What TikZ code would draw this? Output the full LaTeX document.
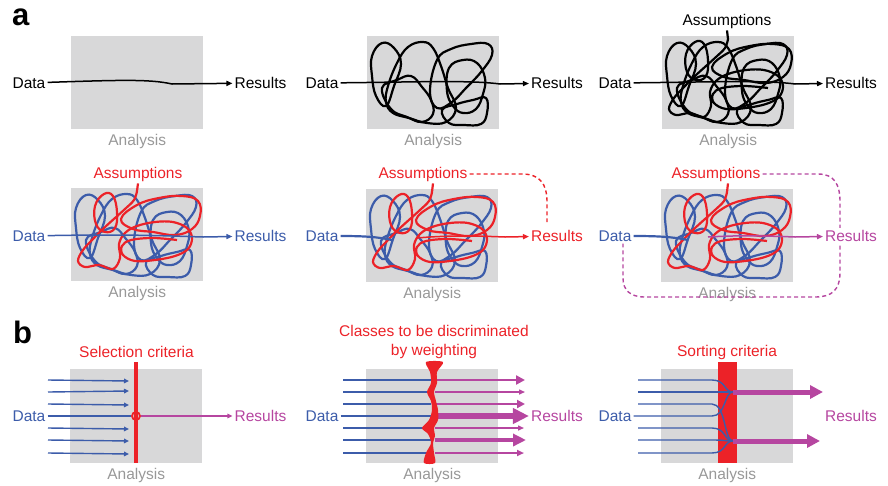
\documentclass[tikz,border=0pt]{standalone}
\usepackage{fontspec}
\setmainfont{Liberation Sans}
\usetikzlibrary{arrows.meta, positioning}

\definecolor{boxgray}{RGB}{216,216,217}
\definecolor{angray}{RGB}{152,152,152}
\definecolor{datablue}{RGB}{60,92,170}
\definecolor{asred}{RGB}{236,34,40}
\definecolor{resmag}{RGB}{182,70,160}

\tikzset{
  lbl/.style={font=\fontsize{15.5}{19}\selectfont, inner sep=2pt},
  anl/.style={font=\fontsize{15.5}{19}\selectfont, text=angray, inner sep=0pt},
  panel/.style={font=\fontsize{31}{36}\selectfont\bfseries, inner sep=0pt, anchor=base west},
  anbox/.style={fill=boxgray, minimum width=132pt, minimum height=93pt, inner sep=0pt, anchor=north west},
  knot/.style={line width=2.2pt, line join=round},
  arr/.style={line width=1.5pt, -{Triangle[length=6pt,width=5pt]}},
  bline/.style={datablue, line width=1.4pt},
  barr/.style={bline, -{Triangle[length=5pt,width=4.5pt]}},
  dashln/.style={line width=1.4pt, dash pattern=on 4pt off 3pt},
}

% loops of the analysis knot (box coordinates, y down)
\newcommand{\blueknot}[1]{
  \draw[knot,#1] plot[smooth cycle,tension=0.7] coordinates {(5,20) (15,7) (27,12) (34,28) (27,50) (19,70) (9,60) (5,40)};
  \draw[knot,#1] plot[smooth cycle,tension=0.7] coordinates {(30,27) (41,11) (56,6) (66,12) (74,30) (81,52) (89,72) (79,86) (60,87) (42,82) (26,77) (19,66) (21,50)};
  \draw[knot,#1] plot[smooth cycle,tension=0.7] coordinates {(70,24) (84,13) (104,8) (121,8) (125,19) (114,36) (99,52) (85,66) (70,72) (63,55)};
  \draw[knot,#1] plot[smooth cycle,tension=0.7] coordinates {(82,32) (96,24) (110,27) (118,42) (116,58) (109,73) (96,77) (86,70) (80,55)};
  \draw[knot,#1] plot[smooth cycle,tension=0.7] coordinates {(75,74) (82,87) (97,89) (114,88) (120,77) (119,62) (106,64) (90,68)};
  \draw[knot,#1] plot[smooth cycle,tension=0.7] coordinates {(15,52) (30,44) (44,40) (55,51) (64,64) (66,78) (55,86) (40,81) (24,73)};
}
\newcommand{\redknot}[2]{
  \draw[knot,#1] (#2) -- plot[smooth,tension=0.6] coordinates {(66,3) (63,12) (54,21) (44,30) (33,40) (22,51) (12,62) (7,73) (14,79) (28,77) (42,81) (49,70) (48,56) (54,45) (66,38) (84,34) (102,34) (116,40) (121,50) (117,61) (104,68) (84,72) (64,73) (52,67) (51,58) (60,52) (82,50) (106,52)};
  \draw[knot,#1] plot[smooth cycle,tension=0.7] coordinates {(24,18) (33,6) (42,8) (46,24) (44,40) (34,44) (25,36)};
  \draw[knot,#1] plot[smooth cycle,tension=0.7] coordinates {(50,31) (66,17) (88,10) (111,8) (127,13) (129,28) (121,41) (104,47) (82,44) (62,41)};
}

\begin{document}
\begin{tikzpicture}[x=1pt, y=-1pt]
\useasboundingbox (0,0) rectangle (888,485);

% ---- a: top row
\node[panel] (pa) at (12,25) {a};

\node[anbox] (box1) at (71,36) {};
\node[anl, below=4.5pt of box1] (an1) {Analysis};
\node[lbl] (d1) at (29,83) {Data};
\node[lbl] (r1) at (260.5,83) {Results};
\draw[arr] (d1) .. controls (120,80) and (150,79) .. (172,84) -- (r1);

\node[anbox] (box2) at (367,36) {};
\node[anl, below=4.5pt of box2] (an2) {Analysis};
\node[lbl] (d2) at (322,83) {Data};
\node[lbl] (r2) at (557,83) {Results};
\begin{scope}[shift={(367,36)}]
  \blueknot{black}
\end{scope}
\draw[arr] (d2) .. controls (420,82) and (470,80) .. (500,84) -- (r2);

\node[anbox] (box3) at (662,36) {};
\node[anl, below=4.5pt of box3] (an3) {Analysis};
\node[lbl] (d3) at (615,83) {Data};
\node[lbl] (r3) at (851,83) {Results};
\node[lbl, anchor=base] (as3) at (727,25) {Assumptions};
\begin{scope}[shift={(662,36)}]
  \blueknot{black}
  \redknot{black}{as3.south}
\end{scope}
\draw[arr] (d3) .. controls (715,82) and (765,80) .. (795,84) -- (r3);

% ---- a: bottom row
\node[anbox] (box4) at (71,188) {};
\node[anl, below=4.5pt of box4] (an4) {Analysis};
\node[lbl, text=datablue] (d4) at (29,236) {Data};
\node[lbl, text=datablue] (r4) at (260.5,236) {Results};
\node[lbl, text=asred, anchor=base] (as4) at (138,178) {Assumptions};
\begin{scope}[shift={(71,188)}]
  \blueknot{datablue}
  \redknot{asred}{as4.south}
\end{scope}
\draw[arr, datablue] (d4) .. controls (130,234) and (170,236) .. (203,237) -- (r4);

\node[anbox] (box5) at (366,189) {};
\node[anl, below=4.5pt of box5] (an5) {Analysis};
\node[lbl, text=datablue] (d5) at (322,236) {Data};
\node[lbl, text=asred] (r5) at (557,236) {Results};
\node[lbl, text=asred, anchor=base] (as5) at (423,178) {Assumptions};
\begin{scope}[shift={(366,189)}]
  \blueknot{datablue}
  \redknot{asred}{[xshift=10pt]as5.south}
\end{scope}
\coordinate (o5) at (417,238);
\draw[knot, datablue] (d5) .. controls (365,236) and (378,237) .. (392,240);
\draw[arr, asred] (o5) .. controls (450,235) and (480,236) .. (505,237) -- (r5);
\draw[dashln, asred] (as5.east) -- (522,174) .. controls (540,174) and (547,184) .. (547,202) -- ([xshift=-10pt, yshift=6pt]r5.north);

\node[anbox] (box6) at (661,189) {};
\node[anl, below=4.5pt of box6] (an6) {Analysis};
\node[lbl, text=datablue] (d6) at (615,236) {Data};
\node[lbl, text=asred, anchor=base] (as6) at (716,178) {Assumptions};
\begin{scope}[shift={(661,189)}]
  \blueknot{datablue}
  \redknot{asred}{[xshift=12pt]as6.south}
\end{scope}
\draw[dashln, resmag] (as6.east) -- (818,174) .. controls (834,174) and (840,184) .. (840,202) -- (840,272)
  .. controls (840,290) and (832,297) .. (815,297) -- (645,297) .. controls (630,297) and (623,290) .. (623,278)
  -- ([xshift=8pt]d6.south);
\node[lbl, text=resmag, fill=white] (r6) at (851,236) {Results};
\coordinate (o6) at (708,237);
\draw[knot, datablue] (d6) .. controls (660,236) and (673,237) .. (688,240);
\draw[arr, resmag] (o6) .. controls (740,235) and (770,236) .. (795,237) -- (r6);

% ---- b
\node[panel] (pb) at (13,343) {b};

% selection
\node[anbox, minimum height=94pt] (box7) at (70,369) {};
\node[anl, below=4.5pt of box7] (an7) {Analysis};
\node[lbl, text=datablue] (d7) at (29,416) {Data};
\node[lbl, text=resmag] (r7) at (260.5,416) {Results};
\node[lbl, text=asred, anchor=base] (sc) at (136.5,357) {Selection criteria};
\foreach \y/\e in {380/381, 392/391, 404/405, 428/429, 440/441, 453/454}
  \draw[barr] (48,\y) -- (129,\e);
\draw[asred, line width=3.5pt] (136,362) -- (136,463);
\node[circle, draw=asred, line width=1.8pt, minimum size=8pt, inner sep=0pt] (sel) at (136,416) {};
\draw[bline] (d7) -- (sel);
\draw[barr, resmag] (sel) -- (r7);

% weighting
\node[anbox, minimum height=94pt] (box8) at (366,369) {};
\node[anl, below=4.5pt of box8] (an8) {Analysis};
\node[lbl, text=datablue] (d8) at (322,416) {Data};
\node[lbl, text=resmag] (r8) at (557,416) {Results};
\node[lbl, text=asred, align=center, anchor=south] (cw) at (434,361) {Classes to be discriminated\\by weighting};
\foreach \y in {380,392,404,428,440,453}
  \draw[bline] (343,\y) -- (431,\y);
\draw[bline] (d8) -- (431,416);
\foreach \y/\w/\l/\b/\t in {380/2.8/9/9/525, 392/1.4/6/5/525, 404/2.4/8/8/525, 428/1.4/6/5/524, 440/4.5/13/12/526, 453/2/7/6/524}
  \draw[resmag, line width=\w pt, -{Triangle[length=\l pt,width=\b pt]}] (435,\y) -- (\t,\y);
\draw[resmag, line width=6pt, -{Triangle[length=16pt,width=15pt]}] (435,416) -- (r8);
\fill[asred] plot[smooth cycle, tension=0.5] coordinates {(426,362) (430,372) (431,383) (427,392) (431,401) (432,410) (429,420) (422,428) (428,434) (431,443) (426,453) (424,463)
  (435,463) (434,453) (433,443) (435,436) (434,428) (438,420) (438,410) (436,401) (434,392) (437,383) (437,372) (443,362)};

% sorting
\node[anbox, minimum height=94pt] (box9) at (661,369) {};
\node[anl, below=4.5pt of box9] (an9) {Analysis};
\node[lbl, text=datablue] (d9) at (615,416) {Data};
\node[lbl, text=resmag] (r9) at (851,416) {Results};
\node[lbl, text=asred, anchor=base] (st) at (727,356.5) {Sorting criteria};
\fill[asred] (718,362) rectangle (737,463);
\foreach \y/\e in {380/392, 392/392, 404/441, 428/441, 440/441, 453/441}
  \draw[bline] (638,\y) -- (712,\y) .. controls (726,\y) and (724,\e) .. (733,\e);
\draw[bline] (d9) -- (712,416) .. controls (726,416) and (724,392) .. (733,392);
\draw[resmag, line width=5pt, -{Triangle[length=13pt,width=13pt]}] (733,392) -- (823,392);
\draw[resmag, line width=5pt, -{Triangle[length=13pt,width=13pt]}] (733,441) -- (820,441);
\end{tikzpicture}
\end{document}
